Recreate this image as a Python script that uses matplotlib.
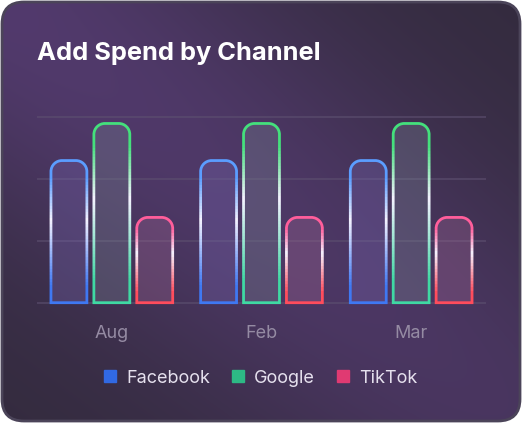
import numpy as np
import matplotlib
matplotlib.use("Agg")
import matplotlib.pyplot as plt
from matplotlib.patches import FancyBboxPatch, PathPatch
from matplotlib.path import Path
from matplotlib.transforms import Bbox, TransformedBbox
from matplotlib.colors import to_rgb, LinearSegmentedColormap
from matplotlib.lines import Line2D

plt.rcParams['font.family'] = ['Inter', 'DejaVu Sans']

months = ['Aug', 'Feb', 'Mar']
channels = ['Facebook', 'Google', 'TikTok']
facebook = [230, 230, 230]
google = [290, 290, 290]
tiktok = [138, 138, 138]
y_grid = [0, 100, 200, 300]

legend_colors = ['#3169e3', '#2db985', '#e03a72']
stroke_top = ['#5b9dff', '#44e07c', '#ff5e9b']
stroke_bottom = ['#3f78f2', '#3fd9a3', '#ff4c5c']
fill_colors = ['#7a6ab8', '#7c8a98', '#a86a98']

W, H = 522, 423
fig = plt.figure(figsize=(W / 100, H / 100), dpi=100)
fig.patch.set_facecolor('white')

# card background with a soft diagonal purple glow
bg = fig.add_axes([0, 0, 1, 1], zorder=0)
bg.set_xlim(0, W)
bg.set_ylim(H, 0)
bg.axis('off')
yy, xx = np.mgrid[0:H, 0:W]
u = np.array([W, H]) / np.hypot(W, H)
d = np.abs(xx * u[1] - yy * u[0])
t = (xx * u[0] + yy * u[1]) / np.hypot(W, H)
w = np.exp(-(d / 190) ** 2) * (1 - 0.3 * t)
base = np.array(to_rgb('#332b3d'))
purple = np.array(to_rgb('#523a6d'))
img = base + w[..., None] * (purple - base)
card = FancyBboxPatch((2, 2), W - 4, H - 4, boxstyle='round,pad=0,rounding_size=22',
                      transform=bg.transData, facecolor='none', edgecolor='#4b4459', lw=2, zorder=3)
bg.add_patch(card)
im = bg.imshow(img, extent=(0, W, H, 0), aspect='auto', zorder=1)
im.set_clip_path(card)

fig.text(37 / W, 1 - 60 / H, 'Add Spend by Channel', fontsize=18.3, fontweight='bold',
         color='white', va='baseline')

# chart
ax = fig.add_axes([37 / W, 1 - 302.7 / H, 449 / W, 185.4 / H], facecolor='none', zorder=1)
x = np.arange(len(months))
width = 0.24
offsets = [-0.2867, 0, 0.2867]
series = [facebook, google, tiktok]
bar_sets = [ax.bar(x + off, vals, width, color='none', edgecolor='none')
            for off, vals in zip(offsets, series)]
ax.set_xlim(-0.5, 2.5)
ax.set_ylim(0, 300)
ax.set_autoscale_on(False)

ax.hlines(y_grid, -0.5, 2.5, colors='#5d5070', lw=1.2, alpha=0.7, clip_on=False, zorder=1)

p = ax.transData.transform([(0, 0), (1, 100)])
px_x = p[1, 0] - p[0, 0]
px_y = (p[1, 1] - p[0, 1]) / 100
rx = 11 / px_x
ry = 11 / px_y


def rounded_top(x0, x1, h):
    k = 0.5523
    verts = [(x0, 0), (x0, h - ry),
             (x0, h - ry + k * ry), (x0 + rx - k * rx, h), (x0 + rx, h),
             (x1 - rx, h),
             (x1 - rx + k * rx, h), (x1, h - ry + k * ry), (x1, h - ry),
             (x1, 0), (x0, 0)]
    codes = [Path.MOVETO, Path.LINETO, Path.CURVE4, Path.CURVE4, Path.CURVE4,
             Path.LINETO, Path.CURVE4, Path.CURVE4, Path.CURVE4, Path.LINETO, Path.CLOSEPOLY]
    return Path(verts, codes)


for k, bars in enumerate(bar_sets):
    cmap = LinearSegmentedColormap.from_list(
        'edge%d' % k,
        [(0, stroke_top[k]), (0.12, stroke_top[k]), (0.42, '#f5f2ff'),
         (0.88, stroke_bottom[k]), (1, stroke_bottom[k])])
    for rect in bars:
        x0 = rect.get_x()
        x1 = x0 + rect.get_width()
        h = rect.get_height()
        path = rounded_top(x0, x1, h)
        ax.add_patch(PathPatch(path, facecolor=fill_colors[k], alpha=0.3,
                               edgecolor='none', zorder=2))
        # gradient outline: same outline drawn in thin horizontal bands
        n = max(int(h * px_y / 3), 4)
        edges = np.linspace(0, h, n + 1)
        for i in range(n):
            ya = edges[i] if i > 0 else -8
            yb = edges[i + 1] if i < n - 1 else h + 8
            frac = 1 - (edges[i] + edges[i + 1]) / 2 / h
            e = PathPatch(path, facecolor='none', edgecolor=cmap(frac), lw=2.0, zorder=3)
            ax.add_patch(e)
            e.set_clip_path(None)
            e.set_clip_box(TransformedBbox(Bbox([[x0 - 0.05, ya], [x1 + 0.05, yb]]),
                                           ax.transData))

ax.set_xticks(x, months)
ax.set_yticks([])
ax.tick_params(axis='x', length=0, pad=16, labelsize=13, labelcolor='#958ba3')
for s in ax.spines.values():
    s.set_visible(False)

handles = [Line2D([], [], marker='s', ls='none', markersize=9, markerfacecolor=c,
                  markeredgecolor=c) for c in legend_colors]
fig.legend(handles, channels, loc='center', bbox_to_anchor=(0.498, 1 - 378 / H), ncol=3,
           frameon=False, fontsize=13, labelcolor='#e6e1ee', handletextpad=0.5,
           columnspacing=1.15, handlelength=0.8)

fig.savefig('out.png', dpi=100)
